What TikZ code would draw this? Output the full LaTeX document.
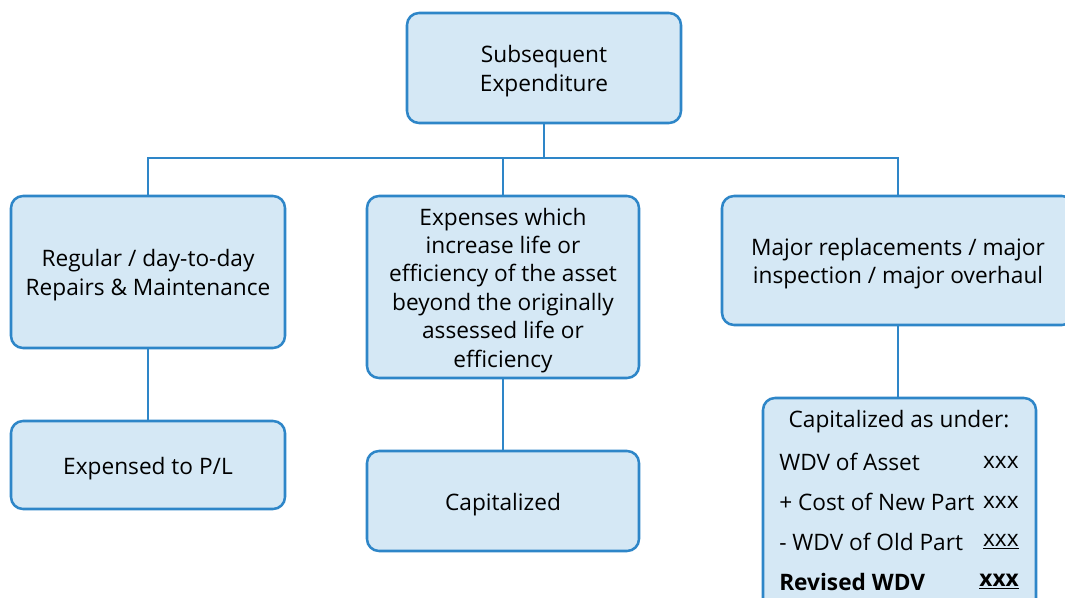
\documentclass[tikz,border=0pt]{standalone}
\usepackage{fontspec}
\setmainfont{Open Sans}
\definecolor{edge}{HTML}{2E86C8}
\definecolor{boxfill}{HTML}{D5E8F5}
\newcommand\boxtext[1]{\raisebox{-2.5pt}[\height][\depth]{\begin{tabular}{@{}c@{}}#1\end{tabular}}}
\begin{document}
\begin{tikzpicture}[x=0.75pt,y=-0.75pt,
  box/.style={draw=edge,fill=boxfill,line width=1.9pt,rounded corners=9pt,
    inner sep=0pt,align=center,font=\fontsize{17}{21.3}\selectfont},
  conn/.style={draw=edge,line width=1.9pt},
  row/.style={inner sep=0pt,font=\fontsize{17}{21.3}\selectfont}]
\useasboundingbox (0,0) rectangle (1065,598);
\clip (0,0) rectangle (1065,598);
\node[box,minimum width=274*0.75pt,minimum height=110*0.75pt] (top) at (544,68) {\boxtext{Subsequent\\Expenditure}};
\node[box,minimum width=274*0.75pt,minimum height=152*0.75pt] (left) at (148,272) {\boxtext{Regular / day-to-day\\Repairs \& Maintenance}};
\node[box,minimum width=272*0.75pt,minimum height=182*0.75pt] (mid) at (503,287) {\boxtext{Expenses which\\increase life or\\efficiency of the asset\\beyond the originally\\assessed life or\\efficiency}};
\node[box,minimum width=352*0.75pt,minimum height=129*0.75pt] (right) at (898,260.5) {\boxtext{Major replacements / major\\inspection / major overhaul}};
\node[box,minimum width=274*0.75pt,minimum height=88*0.75pt] (lb) at (148,465) {\boxtext{Expensed to P/L}};
\node[box,minimum width=272*0.75pt,minimum height=100*0.75pt] (mb) at (503,501) {\boxtext{Capitalized}};
\node[box,minimum width=273*0.75pt,minimum height=214*0.75pt] (rb) at (899.5,505) {};
\node[row] (r0) at (899,422) {Capitalized as under:};
\node[row,anchor=west] (r1l) at (779,462) {WDV of Asset};
\node[row,anchor=east] (r1r) at (1019,462) {xxx};
\node[row,anchor=west] (r2l) at (779,502) {+ Cost of New Part};
\node[row,anchor=east] (r2r) at (1019,502) {xxx};
\node[row,anchor=west] (r3l) at (779,542) {- WDV of Old Part};
\node[row,anchor=east] (r3r) at (1019,542) {\underline{xxx}};
\node[row,anchor=west] (r4l) at (779,582) {\textbf{Revised WDV}};
\node[row,anchor=east] (r4r) at (1019,582) {\textbf{\underline{xxx}}};
\coordinate (bus) at (544,158);
\draw[conn] (top.south) -- (bus);
\draw[conn] (left.north) |- (bus) -| (right.north);
\draw[conn] (mid.north) -- (mid.north |- bus);
\draw[conn] (left.south) -- (lb.north);
\draw[conn] (mid.south) -- (mb.north);
\draw[conn] (right.south) -- (right.south |- rb.north);
\end{tikzpicture}
\end{document}
